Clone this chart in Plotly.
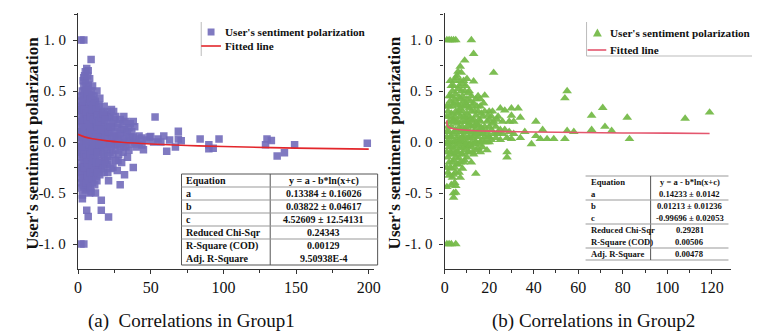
import plotly.graph_objects as go

W, H = 760, 333

# ---------------- data: Group1 (x = count, y = sentiment polarization) ----------------
g1_x = [2, 4, 2, 4,
        2, 2, 2, 2, 2, 2, 2, 2, 2, 2, 2, 2, 2,
        3, 3, 3, 3, 3, 3, 3, 3, 3, 3, 3,
        4, 4, 4, 4, 4, 4, 4, 4, 4, 4, 4, 4,
        5, 5, 5, 5, 5, 5, 5, 5, 5, 5, 5, 5,
        6, 6, 6, 6, 6, 6, 6, 6, 6, 6, 6, 6,
        7, 7, 7, 7, 7, 7, 7, 7, 7, 7, 7, 7,
        8, 8, 8, 8, 8, 8, 8, 8, 8, 8,
        9, 9, 9, 9, 9, 9, 9, 9, 9, 9,
        10, 10, 10, 10, 10, 10, 10, 10, 10, 10,
        11, 11, 11, 11, 11, 11, 11, 11,
        12, 12, 12, 12, 12, 12, 12, 12, 12,
        13, 13, 13, 13, 13, 13, 13, 13,
        14, 14, 14, 14, 14, 14,
        15, 15, 15, 15, 15, 15, 15,
        16, 16, 16, 16, 16, 16, 16,
        17, 17, 17, 17, 17,
        18, 18, 18, 18, 18,
        19, 19, 19, 19,
        20, 20, 20, 20, 20,
        21, 21, 21, 21, 21,
        22, 22, 22, 22,
        23, 23, 23, 23,
        24, 24, 24, 24,
        25, 25, 25,
        26, 26, 26, 26,
        27, 27, 27,
        28, 28, 28,
        29, 29, 29, 29,
        30, 30, 30,
        31, 31, 31,
        32, 32, 32,
        33, 33, 33,
        34, 34,
        35, 35, 35,
        36, 36,
        37, 37,
        38, 38, 38,
        39, 39,
        40, 40,
        42, 42, 44, 44, 45, 47, 49, 50, 52, 53, 55, 57, 59, 61, 63, 67,
        69, 69, 71, 84, 90, 90, 93, 97, 129, 130, 133, 137, 142, 149, 199]
g1_y = [1.0, 1.0, -1.0, -1.0,
        0.45, 0.3, 0.2, 0.1, 0.0, -0.1, -0.2, -0.3, -0.4, -0.45, 0.25, -0.15, 0.05,
        0.5, 0.38, 0.15, -0.05, -0.25, -0.35, -0.52, -0.555, 0.33, 0.08, -0.12,
        0.55, 0.42, 0.27, 0.12, -0.02, -0.18, -0.32, -0.44, 0.63, 0.2, -0.08, -0.38,
        0.69, 0.6, 0.48, 0.35, 0.22, 0.06, -0.08, -0.22, -0.34, -0.47, 0.15, -0.28,
        0.72, 0.52, 0.4, 0.3, 0.18, 0.02, -0.12, -0.26, -0.38, -0.67, 0.1, -0.45,
        0.7, 0.56, 0.44, 0.25, 0.12, -0.04, -0.16, -0.3, -0.42, -0.73, 0.33, -0.2,
        0.62, 0.46, 0.36, 0.2, 0.08, -0.06, -0.2, -0.35, -0.5, 0.28,
        0.81, 0.5, 0.38, 0.24, 0.14, 0.0, -0.14, -0.28, -0.49, 0.05,
        0.55, 0.42, 0.3, 0.18, 0.04, -0.1, -0.24, -0.4, 0.1, -0.05,
        0.45, 0.33, 0.22, 0.07, -0.08, -0.2, -0.33, 0.15,
        0.4, 0.27, 0.13, 0.0, -0.15, -0.28, -0.5, 0.2, -0.08,
        0.5, 0.35, 0.2, 0.06, -0.06, -0.22, -0.38, 0.1,
        0.3, 0.16, 0.02, -0.12, -0.26, 0.08,
        0.43, 0.25, 0.1, -0.04, -0.18, -0.32, 0.0,
        0.3, 0.18, 0.04, -0.1, -0.24, -0.57, -0.67,
        0.22, 0.08, -0.06, -0.2, 0.13,
        0.35, 0.15, 0.0, -0.14, -0.3,
        0.27, 0.1, -0.03, -0.18,
        0.2, 0.05, -0.08, -0.22, 0.3,
        0.14, -0.02, -0.38, -0.735, 0.25,
        0.24, 0.08, -0.1, -0.18,
        0.32, 0.03, -0.05, 0.15,
        0.18, 0.0, -0.12, -0.25,
        0.1, -0.03, 0.22,
        0.25, 0.05, -0.08, -0.18,
        0.14, -0.02, -0.28,
        0.18, 0.02, -0.12,
        0.08, -0.05, -0.42, 0.22,
        0.12, -0.02, -0.2,
        0.18, 0.04, -0.1,
        0.0, -0.32, 0.12,
        0.2, 0.06, -0.05,
        0.1, -0.15,
        0.02, -0.08, 0.14,
        0.05, 0.18,
        -0.02, 0.1,
        0.2, -0.25, 0.05,
        0.15, 0.0,
        0.03, -0.05,
        0.06, -0.02, -0.03, 0.04, -0.075, 0.02, 0.05, 0.055, 0.0, 0.245, 0.03, 0.0, 0.06, -0.09, 0.02, -0.05,
        0.105, 0.03, 0.013, 0.03, -0.026, -0.065, -0.06, 0.03, -0.026, 0.03, 0.015, -0.137, -0.105, -0.026, -0.013]

# additional points filling the dense core of group 1
g1_core_x = [1, 1, 1, 1, 1, 1, 1, 1,
             2.5, 2.5, 2.5, 2.5, 2.5,
             3.5, 3.5, 3.5, 3.5, 3.5, 3.5,
             4.5, 4.5, 4.5, 4.5, 4.5, 4.5,
             5.5, 5.5, 5.5, 5.5, 5.5,
             6.5, 6.5, 6.5, 6.5, 6.5, 6.5,
             7.5, 7.5, 7.5, 7.5, 7.5, 7.5,
             8.5, 8.5, 8.5, 8.5, 8.5, 8.5,
             9.5, 9.5, 9.5, 9.5, 9.5, 9.5,
             10.5, 10.5, 10.5, 10.5, 10.5,
             11.5, 11.5, 11.5, 11.5, 11.5,
             12.5, 12.5, 12.5, 12.5, 12.5,
             13.5, 13.5, 13.5, 13.5,
             14.5, 14.5, 14.5, 14.5,
             16, 16,
             17.5, 17.5, 17.5,
             18.5, 18.5, 18.5,
             20.5, 20.5, 20.5,
             22.5, 22.5, 22.5,
             24.5, 24.5,
             27.5, 27.5,
             31.5, 31.5]
g1_core_y = [0.35, 0.2, 0.05, -0.1, -0.25, -0.35, 0.1, -0.05,
             0.4, 0.15, -0.05, -0.28, 0.32,
             0.45, 0.22, 0.02, -0.15, -0.42, 0.6,
             0.5, 0.32, 0.1, -0.12, -0.25, 0.65,
             0.55, 0.28, 0.0, -0.15, -0.4,
             0.65, 0.46, 0.22, 0.06, -0.2, -0.33,
             0.5, 0.3, 0.16, -0.1, -0.25, -0.38,
             0.42, 0.25, 0.1, -0.12, -0.3, -0.45,
             0.45, 0.32, 0.08, -0.06, -0.22, -0.36,
             0.36, 0.22, 0.0, -0.16, -0.3,
             0.38, 0.12, -0.02, -0.26, -0.42,
             0.32, 0.18, 0.05, -0.2, -0.34,
             0.26, 0.15, -0.1, -0.3,
             0.36, 0.2, -0.02, -0.2,
             0.24, 0.12,
             0.28, -0.12, -0.26,
             0.22, 0.06, -0.22,
             0.1, -0.14, -0.3,
             0.15, -0.02, -0.26,
             0.06, 0.3,
             0.06, -0.18,
             -0.04, 0.25]

# fitted line points
fit1_x = [0, 5, 10, 20, 30, 50, 75, 100, 150, 200]
fit1_y = [0.076, 0.048, 0.032, 0.011, -0.002, -0.019, -0.034, -0.044, -0.060, -0.070]

# ---------------- data: Group2 ----------------
g2_x = [1, 2, 3, 4, 5, 12,
        1, 2, 3, 5,
        1, 2, 3, 4, 5, 6, 7, 8, 10, 12, 14, 16, 18, 20,
        1, 1, 1, 1, 1, 1, 1,
        2, 2, 2, 2, 2, 2, 2,
        3, 3, 3, 3, 3, 3, 3, 3,
        4, 4, 4, 4, 4, 4, 4, 4, 4,
        5, 5, 5, 5, 5, 5, 5, 5, 5, 5,
        6, 6, 6, 6, 6, 6, 6, 6,
        7, 7, 7, 7, 7, 7, 7, 7, 7,
        8, 8, 8, 8, 8, 8, 8, 8,
        9, 9, 9, 9, 9, 9, 9, 9,
        10, 10, 10, 10, 10, 10, 10,
        11, 11, 11, 11, 11, 11,
        12, 12, 12, 12, 12, 12,
        13, 13, 13, 13, 13, 13, 13,
        14, 14, 14, 14, 14, 14,
        15, 15, 15, 15, 15,
        16, 16, 16, 16, 16,
        17, 17, 17, 17,
        18, 18, 18, 18,
        19, 19, 19, 19,
        20, 20, 20, 20,
        21, 21, 21,
        22, 22, 22,
        23, 23,
        24, 24,
        25, 25, 25,
        26, 26,
        27, 27,
        28, 28, 28,
        29, 29,
        30, 30, 30,
        31, 31,
        33, 34, 34, 36, 39, 41, 41, 43, 44, 46, 49, 54, 54, 55, 55, 58,
        66, 66, 71, 72, 75, 82, 83, 108, 119]
g2_y = [1.0, 1.0, 1.0, 1.0, 1.0, 1.0,
        -1.0, -1.0, -1.0, -1.0,
        0.0, 0.0, 0.0, 0.0, 0.0, 0.0, 0.0, 0.0, 0.0, 0.0, 0.0, 0.0, 0.0, 0.0,
        0.25, 0.1, 0.05, -0.1, -0.25, -0.44, 0.35,
        0.35, 0.2, 0.1, -0.05, -0.2, -0.33, 0.45,
        0.45, 0.28, 0.15, 0.05, -0.12, -0.26, -0.42, 0.55,
        0.55, 0.38, 0.22, 0.08, -0.08, -0.18, -0.32, -0.545, -0.5,
        0.63, 0.47, 0.3, 0.12, -0.04, -0.15, -0.3, -0.43, -0.495, 0.2,
        0.69, 0.52, 0.36, 0.2, 0.06, -0.1, -0.22, 0.28,
        0.74, 0.6, 0.42, 0.25, 0.1, -0.06, -0.2, -0.35, 0.33,
        0.57, 0.45, 0.3, 0.15, 0.02, -0.12, -0.26, 0.05,
        0.8, 0.5, 0.35, 0.2, 0.06, -0.08, -0.18, 0.12,
        0.62, 0.42, 0.28, 0.12, -0.04, -0.15, 0.2,
        0.5, 0.33, 0.18, 0.04, -0.1, 0.25,
        0.45, 0.3, 0.15, 0.08, -0.05, -0.2,
        0.865, 0.595, 0.38, 0.22, 0.1, -0.02, -0.12,
        0.42, 0.26, 0.12, 0.0, -0.31, -0.08,
        0.45, 0.3, 0.16, 0.05, -0.06,
        0.35, 0.2, 0.08, -0.1, 0.42,
        0.25, 0.12, 0.02, -0.05,
        0.457, 0.3, 0.15, 0.05,
        0.2, 0.1, 0.0, -0.08,
        0.3, 0.15, 0.05, 0.22,
        0.12, 0.02, 0.25,
        0.68, 0.2, 0.08,
        0.15, 0.04,
        0.1, 0.25,
        0.33, 0.12, 0.02,
        0.2, 0.08,
        0.31, 0.12,
        -0.1, -0.15, 0.04,
        0.1, 0.2,
        0.33, 0.03, 0.26,
        0.2, 0.08,
        0.33, 0.24, 0.04, 0.1, -0.02, 0.2, 0.06, 0.03, 0.12, 0.03, 0.03, 0.43, 0.03, 0.5, 0.11, 0.1,
        0.26, 0.12, 0.335, 0.15, 0.11, 0.24, 0.03, 0.23, 0.29]

# additional points filling the dense core of group 2
g2_core_x = [1.5, 1.5, 1.5, 1.5, 1.5,
             2.5, 2.5, 2.5, 2.5, 2.5, 2.5,
             3.5, 3.5, 3.5, 3.5, 3.5, 3.5,
             4.5, 4.5, 4.5, 4.5, 4.5, 4.5, 4.5,
             5.5, 5.5, 5.5, 5.5, 5.5, 5.5,
             6.5, 6.5, 6.5, 6.5, 6.5, 6.5, 6.5,
             7.5, 7.5, 7.5, 7.5, 7.5, 7.5,
             8.5, 8.5, 8.5, 8.5, 8.5, 8.5,
             9.5, 9.5, 9.5, 9.5, 9.5,
             10.5, 10.5, 10.5, 10.5, 10.5,
             11.5, 11.5, 11.5, 11.5,
             12.5, 12.5, 12.5, 12.5,
             13.5, 13.5, 13.5,
             14.5, 14.5, 14.5,
             15.5, 15.5, 15.5,
             16.5, 16.5,
             17.5, 17.5,
             19.5, 19.5,
             21.5, 21.5,
             23.5, 23.5]
g2_core_y = [0.3, 0.15, -0.02, -0.15, -0.3,
             0.4, 0.25, 0.05, -0.1, -0.25, 0.6,
             0.5, 0.35, 0.2, -0.05, -0.2, -0.35,
             0.6, 0.42, 0.25, 0.1, -0.12, -0.25, -0.4,
             0.65, 0.38, 0.18, 0.02, -0.1, -0.22,
             0.55, 0.44, 0.3, 0.14, -0.02, -0.16, -0.3,
             0.68, 0.5, 0.36, 0.2, 0.04, -0.12,
             0.6, 0.4, 0.25, 0.1, -0.05, -0.2,
             0.55, 0.38, 0.24, 0.1, -0.02,
             0.48, 0.35, 0.16, 0.04, -0.1,
             0.4, 0.22, 0.1, -0.03,
             0.35, 0.2, 0.04, -0.1,
             0.3, 0.16, 0.06,
             0.35, 0.18, 0.08,
             0.22, 0.1, -0.02,
             0.28, 0.14,
             0.38, 0.08,
             0.26, 0.05,
             0.18, 0.3,
             0.22, 0.08]

fit2_x = [1.0, 1.05, 1.2, 1.5, 2, 3, 5, 10, 20, 40, 60, 80, 100, 119]
fit2_y = [0.212, 0.178, 0.162, 0.151, 0.142, 0.134, 0.126, 0.116, 0.107, 0.098, 0.093, 0.089, 0.087, 0.084]

# tick labels
y_tickvals = [-1.0, -0.5, 0.0, 0.5, 1.0]
y_ticktext = ["-1. 0", "-0. 5", "0. 0", "0. 5", "1. 0"]
x1_ticks = [0, 50, 100, 150, 200]
x2_ticks = [0, 20, 40, 60, 80, 100, 120]

# table texts
tab_labels = ["Equation", "a", "b", "c", "Reduced Chi-Sqr", "R-Square (COD)", "Adj. R-Square"]
tab1_vals = ["y = a - b*ln(x+c)", "0.13384 ± 0.16026", "0.03822 ± 0.04617", "4.52609 ± 12.54131",
             "0.24343", "0.00129", "9.50938E-4"]
tab2_vals = ["y = a - b*ln(x+c)", "0.14233 ± 0.0142", "0.01213 ± 0.01236", "-0.99696 ± 0.02053",
             "0.29281", "0.00506", "0.00478"]

legend_names = ["User's sentiment polarization", "Fitted line"]
captions = ["(a)  Correlations in Group1", "(b) Correlations in Group2"]
ytitle = "User's sentiment polarization"

SERIF = "Liberation Serif, Times New Roman, serif"
PURPLE = "rgba(114,108,186,0.9)"
GREEN = "rgba(118,186,74,0.95)"
RED1 = "#e3262b"
RED2 = "#e4566e"


def px(x):
    return x / W


def py(y):
    return 1 - y / H


fig = go.Figure()
fig.add_trace(go.Scatter(x=g1_x + g1_core_x, y=g1_y + g1_core_y, mode="markers", xaxis="x", yaxis="y",
                         marker=dict(symbol="square", size=7.5, color=PURPLE, line=dict(width=0)),
                         showlegend=False))
fig.add_trace(go.Scatter(x=fit1_x, y=fit1_y, mode="lines", xaxis="x", yaxis="y",
                         line=dict(color=RED1, width=1.6, shape="spline"), showlegend=False))
fig.add_trace(go.Scatter(x=g2_x + g2_core_x, y=g2_y + g2_core_y, mode="markers", xaxis="x2", yaxis="y2",
                         marker=dict(symbol="triangle-up", size=8.5, color=GREEN, line=dict(width=0)),
                         showlegend=False))
fig.add_trace(go.Scatter(x=fit2_x, y=fit2_y, mode="lines", xaxis="x2", yaxis="y2",
                         line=dict(color=RED2, width=1.6, shape="spline"), showlegend=False))

axis_common = dict(showgrid=False, zeroline=False, showline=True, linecolor="#333", linewidth=1.3,
                   ticks="outside", ticklen=4, tickcolor="#333", tickwidth=1,
                   tickfont=dict(family=SERIF, size=16, color="#111"))
yfont = dict(family=SERIF, size=15, color="#111")
ydom = [py(261), py(5)]
fig.update_layout(
    width=W, height=H, margin=dict(l=0, r=0, t=0, b=0),
    font=dict(family=SERIF, color="#111"),
    paper_bgcolor="white", plot_bgcolor="white", showlegend=False,
    xaxis=dict(axis_common, domain=[px(67), px(367)], range=[0, 203.4], anchor="y",
               tickvals=x1_ticks, minor=dict(ticks="outside", ticklen=3, dtick=25, tickcolor="#333")),
    yaxis=dict(axis_common, domain=ydom, range=[-1.245, 1.265], anchor="x",
               tickvals=y_tickvals, ticktext=y_ticktext, tickfont=yfont, ticklabelstandoff=4,
               minor=dict(ticks="outside", ticklen=3, dtick=0.25, tickcolor="#333")),
    xaxis2=dict(axis_common, domain=[px(439), px(730)], range=[0, 128.8], anchor="y2",
                tickvals=x2_ticks, minor=dict(ticks="outside", ticklen=3, dtick=10, tickcolor="#333")),
    yaxis2=dict(axis_common, domain=ydom, range=[-1.245, 1.265], anchor="x2",
                tickvals=y_tickvals, ticktext=y_ticktext, tickfont=yfont, ticklabelstandoff=4,
                minor=dict(ticks="outside", ticklen=3, dtick=0.25, tickcolor="#333")),
)

ann = []
shapes = []

# y-axis titles
for cx in (20, 388):
    ann.append(dict(x=px(cx), y=py(135), xref="paper", yref="paper", text="<b>" + ytitle + "</b>",
                    textangle=-90, showarrow=False, font=dict(family=SERIF, size=17, color="#111"),
                    xanchor="center", yanchor="middle"))

# captions
for cx, t in zip((182, 590), captions):
    ann.append(dict(x=px(cx), y=py(313), xref="paper", yref="paper", text=t, showarrow=False,
                    font=dict(family=SERIF, size=19, color="#111"), xanchor="center", yanchor="middle"))

# legends
LFS = 11.2
legs = [dict(bx=192, mk=202, tx=214, y1=24, y2=38, sym="square", col=PURPLE, lc=RED1, lx0=192, lx1=212, bottom=False),
        dict(bx=583, mk=594, tx=605, y1=25, y2=42, sym="triangle", col=GREEN, lc=RED2, lx0=584, lx1=603, bottom=True)]
for L in legs:
    shapes.append(dict(type="line", xref="paper", yref="paper", x0=px(L["bx"]), x1=px(L["bx"]),
                       y0=py(14), y1=py(48), line=dict(color="#bbb", width=1)))
    if L["bottom"]:
        shapes.append(dict(type="line", xref="paper", yref="paper", x0=px(L["bx"]), x1=px(760),
                           y0=py(48), y1=py(48), line=dict(color="#bbb", width=1)))
    shapes.append(dict(type="line", xref="paper", yref="paper", x0=px(L["lx0"]), x1=px(L["lx1"]),
                       y0=py(L["y2"]), y1=py(L["y2"]), line=dict(color=L["lc"], width=1.6)))
    m, yc = L["mk"], L["y1"]
    if L["sym"] == "square":
        shapes.append(dict(type="rect", xref="paper", yref="paper", x0=px(m - 3.5), x1=px(m + 3.5),
                           y0=py(yc + 3.5), y1=py(yc - 3.5), fillcolor=L["col"], line=dict(width=0)))
    else:
        path = "M {},{} L {},{} L {},{} Z".format(px(m - 4.5), py(yc + 3.5), px(m + 4.5), py(yc + 3.5),
                                                 px(m), py(yc - 4.5))
        shapes.append(dict(type="path", xref="paper", yref="paper", path=path,
                           fillcolor=L["col"], line=dict(width=0)))
    ann.append(dict(x=px(L["tx"]), y=py(L["y1"]), xref="paper", yref="paper",
                    text="<b>" + legend_names[0] + "</b>", showarrow=False,
                    font=dict(family=SERIF, size=LFS, color="#111"), xanchor="left", yanchor="middle"))
    ann.append(dict(x=px(L["tx"]), y=py(L["y2"]), xref="paper", yref="paper",
                    text="<b>" + legend_names[1] + "</b>", showarrow=False,
                    font=dict(family=SERIF, size=LFS, color="#111"), xanchor="left", yanchor="middle"))

# tables
tables = [dict(x0=172, x1=371, xd=262, y0=166, y1=257, vals=tab1_vals, fs=10,
               hlines=[1, 2, 3, 4, 5], box=True),
          dict(x0=582, x1=727, xd=648, y0=168, y1=252, vals=tab2_vals, fs=8.6,
               hlines=[2, 4, 6], box=False)]
for T in tables:
    rh = (T["y1"] - T["y0"]) / 7
    lc = "#555"
    if T["box"]:
        shapes.append(dict(type="rect", xref="paper", yref="paper", x0=px(T["x0"]), x1=px(T["x1"]),
                           y0=py(T["y1"]), y1=py(T["y0"]), line=dict(color=lc, width=1),
                           fillcolor="white", layer="above"))
    else:
        shapes.append(dict(type="rect", xref="paper", yref="paper", x0=px(T["x0"]), x1=px(T["x1"]),
                           y0=py(T["y1"]), y1=py(T["y0"]), line=dict(width=0),
                           fillcolor="white", layer="above"))
        for yy in (T["y0"], T["y1"]):
            shapes.append(dict(type="line", xref="paper", yref="paper", x0=px(T["x0"]), x1=px(T["x1"]),
                               y0=py(yy), y1=py(yy), line=dict(color="#999", width=1), layer="above"))
    shapes.append(dict(type="line", xref="paper", yref="paper", x0=px(T["xd"]), x1=px(T["xd"]),
                       y0=py(T["y1"]), y1=py(T["y0"]), line=dict(color=lc, width=1), layer="above"))
    for k in T["hlines"]:
        yy = T["y0"] + k * rh
        shapes.append(dict(type="line", xref="paper", yref="paper", x0=px(T["x0"]), x1=px(T["x1"]),
                           y0=py(yy), y1=py(yy), line=dict(color="#999", width=1), layer="above"))
    for i in range(7):
        yc = T["y0"] + (i + 0.5) * rh
        ann.append(dict(x=px(T["x0"] + 3), y=py(yc), xref="paper", yref="paper",
                        text="<b>" + tab_labels[i] + "</b>", showarrow=False,
                        font=dict(family=SERIF, size=T["fs"], color="#111"),
                        xanchor="left", yanchor="middle"))
        ann.append(dict(x=px((T["xd"] + T["x1"]) / 2), y=py(yc), xref="paper", yref="paper",
                        text="<b>" + T["vals"][i] + "</b>", showarrow=False,
                        font=dict(family=SERIF, size=T["fs"], color="#111"),
                        xanchor="center", yanchor="middle"))

fig.update_layout(annotations=ann, shapes=shapes)
fig.write_html("out.html")
